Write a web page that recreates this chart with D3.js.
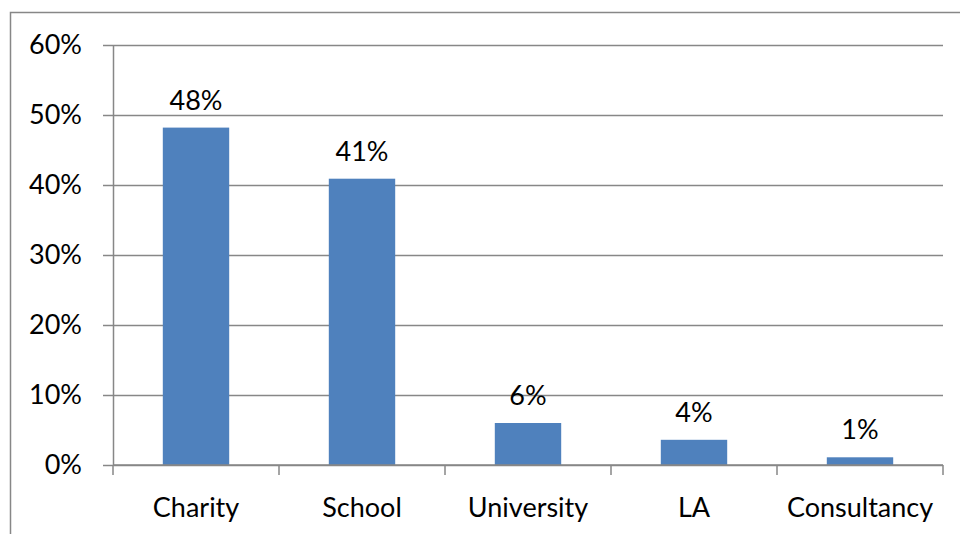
<!DOCTYPE html>
<html>
<head>
<meta charset="utf-8">
<script src="https://cdn.jsdelivr.net/npm/d3@7"></script>
<style>
  html, body { margin: 0; padding: 0; background: #fff; }
  svg { display: block; }
  text { font-family: Lato, "Open Sans", sans-serif; fill: #000; }
</style>
</head>
<body>
<svg id="chart" width="960" height="534"></svg>
<script>
// Share of respondents by organisation type
const categories = ["Charity", "School", "University", "LA", "Consultancy"];
const values = [0.482, 0.409, 0.060, 0.036, 0.011];
const yTicks = [0, 0.1, 0.2, 0.3, 0.4, 0.5, 0.6];

const svg = d3.select("#chart");
const W = 960, H = 534;
const margin = { left: 113, right: 17, top: 45, bottom: 69 };
const gridColor = "#878787";
const fontSize = 27;

// outer chart frame
svg.append("rect")
  .attr("x", 10.5).attr("y", 12.5)
  .attr("width", 960).attr("height", 540)
  .attr("fill", "none")
  .attr("stroke", gridColor)
  .attr("stroke-width", 1.5);

const x = d3.scaleBand()
  .domain(categories)
  .range([margin.left, W - margin.right])
  .paddingInner(0.6)
  .paddingOuter(0.3);

const y = d3.scaleLinear()
  .domain([0, 0.6])
  .range([H - margin.bottom, margin.top]);

// horizontal gridlines and y axis
const yAxis = d3.axisLeft(y)
  .tickValues(yTicks)
  .tickFormat(d3.format(".0%"))
  .tickSize(-(W - margin.right - margin.left))
  .tickSizeOuter(0)
  .tickPadding(31);

const gy = svg.append("g")
  .attr("transform", `translate(${margin.left},0)`)
  .call(yAxis);
gy.select(".domain").attr("stroke", gridColor).attr("stroke-width", 1.5);
gy.selectAll(".tick line")
  .attr("stroke", gridColor)
  .attr("stroke-width", 1.5)
  .attr("x1", -10);
gy.selectAll(".tick text")
  .attr("font-size", fontSize)
  .attr("font-family", "Lato, 'Open Sans', sans-serif")
  .attr("fill", "#000");

// bars
svg.append("g")
  .selectAll("rect")
  .data(values)
  .join("rect")
  .attr("x", (d, i) => x(categories[i]))
  .attr("y", d => y(d))
  .attr("width", x.bandwidth())
  .attr("height", d => y(0) - y(d))
  .attr("fill", "#4f81bd");

// value labels
svg.append("g")
  .selectAll("text")
  .data(values)
  .join("text")
  .attr("x", (d, i) => x(categories[i]) + x.bandwidth() / 2)
  .attr("y", d => y(d) - 18)
  .attr("text-anchor", "middle")
  .attr("font-size", fontSize)
  .text(d => d3.format(".0%")(d));

// category axis with ticks at category boundaries
const step = (W - margin.right - margin.left) / categories.length;
const gx = svg.append("g")
  .attr("transform", `translate(0,${y(0)})`);
gx.append("line")
  .attr("x1", margin.left).attr("x2", W - margin.right)
  .attr("stroke", gridColor).attr("stroke-width", 1.5);
gx.selectAll("line.tick")
  .data(d3.range(categories.length + 1))
  .join("line")
  .attr("class", "tick")
  .attr("x1", i => margin.left + i * step)
  .attr("x2", i => margin.left + i * step)
  .attr("y1", 0).attr("y2", 10)
  .attr("stroke", gridColor).attr("stroke-width", 1.5);
gx.selectAll("text")
  .data(categories)
  .join("text")
  .attr("x", d => x(d) + x.bandwidth() / 2)
  .attr("y", 52)
  .attr("text-anchor", "middle")
  .attr("font-size", fontSize)
  .text(d => d);
</script>
</body>
</html>
